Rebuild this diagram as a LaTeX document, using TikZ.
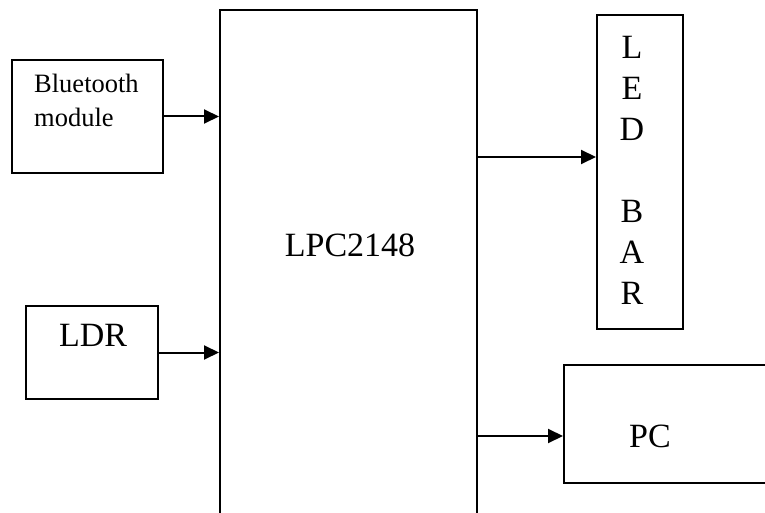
\documentclass[tikz,border=0pt]{standalone}
\usepackage{fontspec}
\setmainfont{Liberation Serif}
\usetikzlibrary{arrows.meta,positioning}

\begin{document}
\begin{tikzpicture}[
  x=1pt,y=-1pt,
  block/.style={rectangle,draw,line width=2pt,inner sep=0pt},
  arrow/.style={-{Triangle[length=15pt,width=14pt]},line width=2pt},
  bigtext/.style={font=\fontsize{34}{41}\selectfont,inner sep=0pt},
  smalltext/.style={font=\fontsize{26.5}{34}\selectfont,inner sep=0pt,align=left},
]
\useasboundingbox (0,0) rectangle (765,513);
\clip (0,0) rectangle (765,513);

% Blocks
\node[block,minimum width=151pt,minimum height=113pt] (bt) at (87.5,116.5) {};
\node[block,minimum width=132pt,minimum height=93pt] (ldr) at (92,352.5) {};
\node[block,minimum width=257pt,minimum height=560pt] (lpc) at (348.5,290) {};
\node[block,minimum width=86pt,minimum height=314pt] (led) at (640,172) {};
\node[block,minimum width=236pt,minimum height=118pt] (pc) at (682,424) {};

% Labels
\node[smalltext,anchor=north west] (bt_text) at (34,74) {Bluetooth\\module};
\node[bigtext] (ldr_text) at (93,335) {LDR};
\node[bigtext] (lpc_text) at (350,245) {LPC2148};
\node[bigtext,align=center] (led_text) at (632,170) {L\\E\\D\\[41pt]B\\A\\R};
\node[bigtext] (pc_text) at (650,436) {PC};

% Connections
\draw[arrow] (bt.east) -- (bt.east -| lpc.west);
\draw[arrow] (ldr.east) -- (ldr.east -| lpc.west);
\draw[arrow] (lpc.east |- 0,157) -- (led.west |- 0,157);
\draw[arrow] (lpc.east |- 0,436) -- (pc.west |- 0,436);

\end{tikzpicture}
\end{document}
